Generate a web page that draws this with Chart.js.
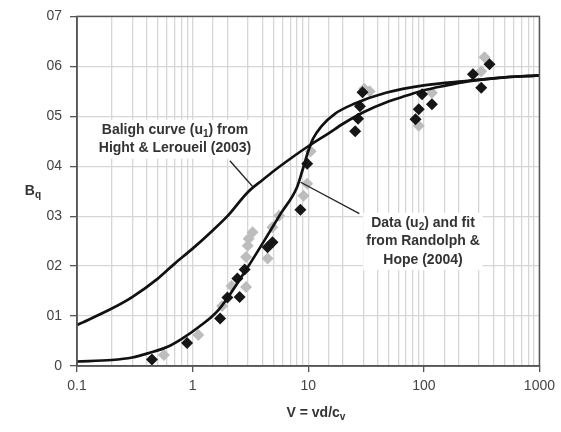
<!DOCTYPE html>
<html>
<head>
<meta charset="utf-8">
<script src="https://cdn.jsdelivr.net/npm/chart.js@4.4.1/dist/chart.umd.min.js"></script>
<style>
  html, body { margin: 0; padding: 0; background: #fff; }
</style>
</head>
<body>
<canvas id="bqChart" width="561" height="432"></canvas>
<script>
// Baligh curve (u1), Hight & Leroueil (2003)
const balighV  = [0.1, 0.2, 0.3, 0.5, 0.7, 1, 1.5, 2, 3, 4, 5, 7, 10, 15, 20, 30, 50, 70, 100, 150, 240, 400, 1000];
const balighBq = [0.082, 0.115, 0.138, 0.175, 0.205, 0.235, 0.272, 0.300, 0.348, 0.372, 0.390, 0.415, 0.440, 0.466, 0.485, 0.508, 0.530, 0.541, 0.552, 0.561, 0.570, 0.576, 0.582];

// fit to u2 data, Randolph & Hope (2004)
const fitV  = [0.1, 0.2, 0.3, 0.42, 0.6, 0.8, 1.13, 1.67, 2.64, 4.17, 5.78, 8, 9, 10, 11, 13, 17, 25, 47, 100, 240, 500, 1000];
const fitBq = [0.009, 0.012, 0.017, 0.026, 0.038, 0.054, 0.078, 0.112, 0.178, 0.251, 0.305, 0.358, 0.395, 0.430, 0.455, 0.480, 0.505, 0.525, 0.547, 0.562, 0.571, 0.578, 0.582];

// u2 data, black diamonds
const blackV  = [0.445, 0.895, 1.73, 2.0, 2.44, 2.55, 2.82, 4.45, 4.91, 8.56, 9.8, 25.5, 27, 28, 29.5, 84.7, 90.4, 96.6, 117.5, 266, 314, 370];
const blackBq = [0.013, 0.046, 0.095, 0.137, 0.175, 0.138, 0.193, 0.238, 0.248, 0.313, 0.405, 0.470, 0.495, 0.520, 0.548, 0.494, 0.514, 0.544, 0.524, 0.584, 0.557, 0.604];

// u2 data, grey diamonds
const greyV  = [0.565, 1.12, 1.8, 2.17, 2.9, 2.9, 3.0, 3.05, 3.3, 4.45, 4.9, 5.6, 9.1, 9.8, 10.5, 30.5, 34, 90.4, 117.5, 314, 335];
const greyBq = [0.022, 0.062, 0.120, 0.160, 0.158, 0.218, 0.241, 0.255, 0.268, 0.215, 0.278, 0.301, 0.341, 0.365, 0.430, 0.555, 0.550, 0.481, 0.547, 0.590, 0.618];

const yTickLabels = ['0', '01', '02', '03', '04', '05', '06', '07'];

const FONT = '"Liberation Sans", Arial, sans-serif';
const INK = '#333';

const toPts = (xs, ys) => xs.map((v, i) => ({ x: v, y: ys[i] }));
const isDecade = v => { const l = Math.log10(v); return Math.abs(l - Math.round(l)) < 1e-6; };

// text pieces: [text, isSubscript]
function richWidth(ctx, pieces, size) {
  let w = 0;
  for (const [t, sub] of pieces) {
    ctx.font = 'bold ' + (sub ? size * 0.72 : size) + 'px ' + FONT;
    w += ctx.measureText(t).width;
  }
  return w;
}
function drawRich(ctx, pieces, cx, cy, size) {
  let x = cx - richWidth(ctx, pieces, size) / 2;
  ctx.textAlign = 'left';
  ctx.textBaseline = 'middle';
  for (const [t, sub] of pieces) {
    ctx.font = 'bold ' + (sub ? size * 0.72 : size) + 'px ' + FONT;
    ctx.fillText(t, x, sub ? cy + size * 0.28 : cy);
    x += ctx.measureText(t).width;
  }
}

const notes = [
  {
    lines: [[['Baligh curve (u', 0], ['1', 1], [') from', 0]], [['Hight & Leroueil (2003)', 0]]],
    cx: 175, top: 130,
    from: [3.32, 0.359], to: [2.10, 0.411]
  },
  {
    lines: [[['Data (u', 0], ['2', 1], [') and fit', 0]], [['from Randolph &', 0]], [['Hope (2004)', 0]]],
    cx: 423, top: 223,
    from: [8.6, 0.368], to: [27.7, 0.305]
  }
];

const annotate = {
  id: 'annotate',
  afterDatasetsDraw(chart) {
    const { ctx, chartArea: a, scales: { x, y } } = chart;
    ctx.save();
    ctx.strokeStyle = '#555';
    ctx.lineWidth = 1.5;
    ctx.strokeRect(a.left, a.top, a.right - a.left, a.bottom - a.top);

    const size = 14, lh = 18.5;
    notes.forEach(n => {
      ctx.strokeStyle = '#222';
      ctx.lineWidth = 1.3;
      ctx.beginPath();
      ctx.moveTo(x.getPixelForValue(n.from[0]), y.getPixelForValue(n.from[1]));
      ctx.lineTo(x.getPixelForValue(n.to[0]), y.getPixelForValue(n.to[1]));
      ctx.stroke();
      const w = Math.max(...n.lines.map(l => richWidth(ctx, l, size)));
      ctx.fillStyle = '#fff';
      ctx.fillRect(n.cx - w / 2 - 3, n.top - lh / 2 - 1, w + 6, lh * n.lines.length + 2);
      ctx.fillStyle = INK;
      n.lines.forEach((l, i) => drawRich(ctx, l, n.cx, n.top + i * lh, size));
    });
    ctx.restore();
  },
  afterDraw(chart) {
    const { ctx } = chart;
    ctx.save();
    ctx.fillStyle = INK;
    drawRich(ctx, [['V = vd/c', 0], ['v', 1]], 316, 413, 14);
    drawRich(ctx, [['B', 0], ['q', 1]], 33, 191, 14);
    ctx.restore();
  }
};

new Chart(document.getElementById('bqChart'), {
  type: 'scatter',
  data: {
    datasets: [
      {
        label: 'Baligh',
        data: toPts(balighV, balighBq),
        showLine: true, borderColor: '#111', borderWidth: 2.7,
        pointRadius: 0, cubicInterpolationMode: 'monotone', order: 0
      },
      {
        label: 'fit',
        data: toPts(fitV, fitBq),
        showLine: true, borderColor: '#111', borderWidth: 2.7,
        pointRadius: 0, cubicInterpolationMode: 'monotone', order: 0
      },
      {
        label: 'data black',
        data: toPts(blackV, blackBq),
        pointStyle: 'rectRot', pointRadius: 6, borderWidth: 0,
        backgroundColor: '#161616', order: 1
      },
      {
        label: 'data grey',
        data: toPts(greyV, greyBq),
        pointStyle: 'rectRot', pointRadius: 6, borderWidth: 0,
        backgroundColor: '#bdbdbd', order: 2
      }
    ]
  },
  options: {
    responsive: false,
    animation: false,
    devicePixelRatio: 1,
    layout: { padding: { top: 15, right: 16, bottom: 0, left: 0 } },
    plugins: { legend: { display: false }, tooltip: { enabled: false } },
    scales: {
      x: {
        type: 'logarithmic',
        min: 0.1, max: 1000,
        border: { color: '#555', width: 1.5 },
        grid: {
          color: '#d6d6d6', lineWidth: 1.3, tickLength: 6,
          tickColor: c => (c.tick && isDecade(c.tick.value)) ? '#555' : 'rgba(0,0,0,0)'
        },
        ticks: {
          autoSkip: false, maxRotation: 0, padding: 6,
          color: '#444', font: { family: FONT, size: 14 },
          callback: v => isDecade(v) ? String(Number(v.toPrecision(3))) : ''
        },
        afterFit: s => { s.height = 66; }
      },
      y: {
        min: 0, max: 0.7,
        border: { color: '#555', width: 1.5 },
        grid: { color: '#d6d6d6', lineWidth: 1.3, tickLength: 7, tickColor: '#555' },
        ticks: {
          stepSize: 0.1, padding: 8,
          color: '#444', font: { family: FONT, size: 14 },
          callback: v => yTickLabels[Math.round(v * 10)]
        },
        afterFit: s => { s.width = 77; }
      }
    }
  },
  plugins: [annotate]
});
</script>
</body>
</html>
